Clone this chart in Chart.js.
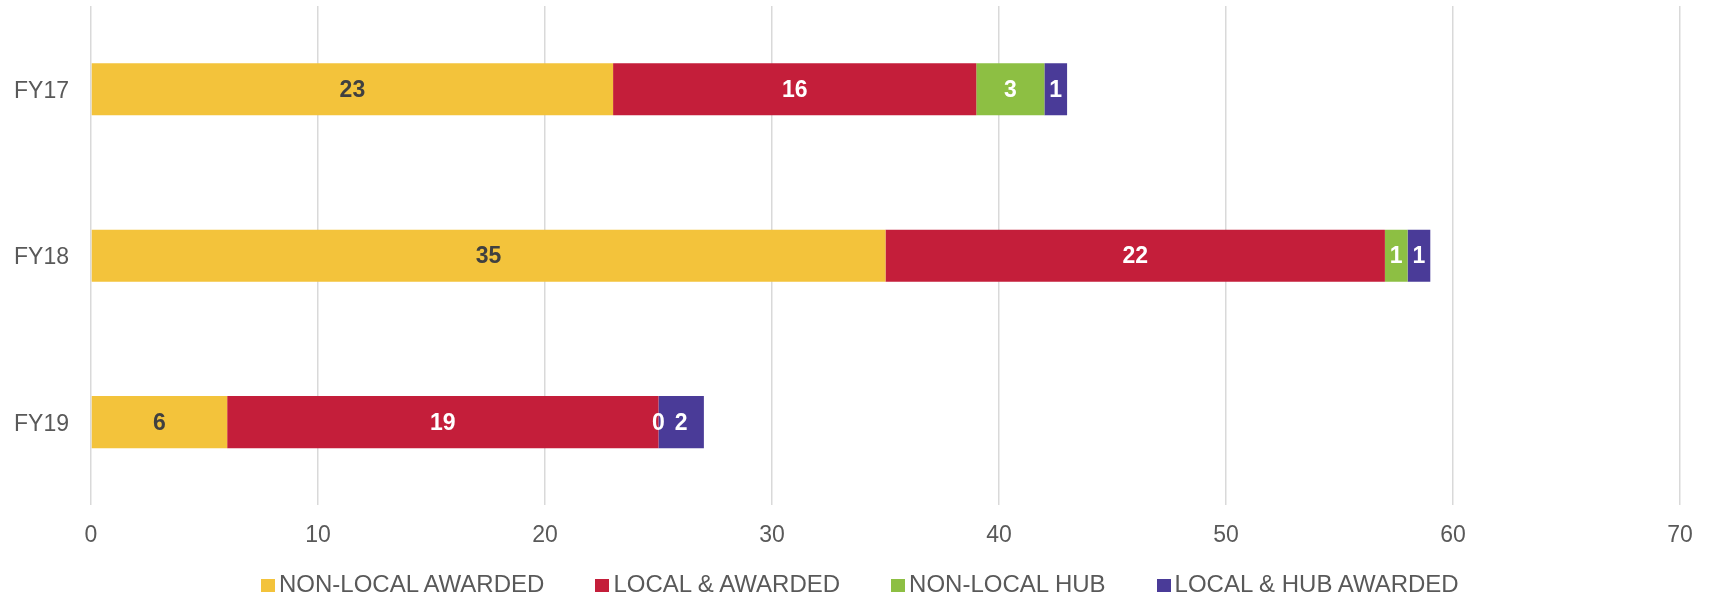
<!DOCTYPE html>
<html>
<head>
<meta charset="utf-8">
<script src="https://cdn.jsdelivr.net/npm/chart.js@4"></script>
<style>
    body { margin: 0; background: #fff; }
    #wrap { position: relative; width: 1709px; height: 598px; }
    #chart { position: absolute; left: 0; top: 0; }
    #legend {
        position: absolute; left: 261px; top: 572px; height: 24px;
        display: flex; gap: 51px; white-space: nowrap;
        font: 24px/24px "Liberation Sans", Arial, sans-serif; color: #595959;
    }
    .item { display: flex; align-items: center; }
    .box { width: 14px; height: 13px; margin-right: 4px; position: relative; top: 1px; }
</style>
</head>
<body>
<div id="wrap">
    <canvas id="chart" width="1709" height="578"></canvas>
    <div id="legend"></div>
</div>
<script>
const categories = ['FY17', 'FY18', 'FY19'];
const seriesNames = ['NON-LOCAL AWARDED', 'LOCAL & AWARDED', 'NON-LOCAL HUB', 'LOCAL & HUB AWARDED'];
const nonLocalAwarded = [23, 35, 6];
const localAwarded = [16, 22, 19];
const nonLocalHub = [3, 1, 0];
const localHubAwarded = [1, 1, 2];
const xTicks = [0, 10, 20, 30, 40, 50, 60, 70];

const colors = ['#F3C33B', '#C41E3A', '#8DBF43', '#4A3B98'];
const labelColors = ['#404040', '#ffffff', '#ffffff', '#ffffff'];
const fontFamily = '"Liberation Sans", Arial, sans-serif';

// value labels in the middle of each segment
const valueLabels = {
    id: 'valueLabels',
    afterDatasetsDraw(chart) {
        const ctx = chart.ctx;
        ctx.save();
        ctx.font = 'bold 23px ' + fontFamily;
        ctx.textAlign = 'center';
        ctx.textBaseline = 'middle';
        chart.data.datasets.forEach((ds, i) => {
            chart.getDatasetMeta(i).data.forEach((bar, j) => {
                const p = bar.getProps(['x', 'y', 'base'], true);
                ctx.fillStyle = labelColors[i];
                ctx.fillText(ds.data[j], (p.x + p.base) / 2, p.y + 1);
            });
        });
        ctx.restore();
    }
};

const allSeries = [nonLocalAwarded, localAwarded, nonLocalHub, localHubAwarded];

new Chart(document.getElementById('chart'), {
    type: 'bar',
    data: {
        labels: categories,
        datasets: allSeries.map((data, i) => ({
            label: seriesNames[i],
            data,
            backgroundColor: colors[i],
            borderWidth: 0,
            categoryPercentage: 1,
            barPercentage: 0.313
        }))
    },
    options: {
        indexAxis: 'y',
        responsive: false,
        animation: false,
        layout: { padding: { left: 14, right: 29, top: 6, bottom: 13 } },
        plugins: {
            legend: { display: false },
            tooltip: { enabled: false }
        },
        scales: {
            x: {
                stacked: true,
                min: xTicks[0],
                max: xTicks[xTicks.length - 1],
                afterBuildTicks: axis => { axis.ticks = xTicks.map(v => ({ value: v })); },
                grid: { color: '#d9d9d9', lineWidth: 1.5, drawTicks: false },
                border: { display: false },
                ticks: { color: '#595959', font: { size: 23, family: fontFamily }, padding: 16 }
            },
            y: {
                stacked: true,
                // no extra top/bottom room for the category labels
                afterFit: axis => { axis.paddingTop = 0; axis.paddingBottom = 0; },
                grid: { display: false, drawTicks: true, tickLength: 22 },
                border: { display: false },
                ticks: { color: '#595959', font: { size: 23, family: fontFamily }, padding: 0, labelOffset: 2 }
            }
        }
    },
    plugins: [valueLabels]
});

const legend = document.getElementById('legend');
seriesNames.forEach((name, i) => {
    const item = document.createElement('div');
    item.className = 'item';
    item.innerHTML = `<span class="box" style="background:${colors[i]}"></span><span>${name.replace('&', '&amp;')}</span>`;
    legend.appendChild(item);
});
</script>
</body>
</html>
